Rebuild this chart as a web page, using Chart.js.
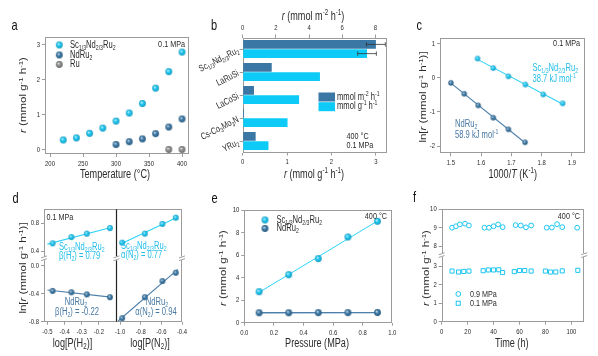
<!DOCTYPE html>
<html><head><meta charset="utf-8">
<script src="https://cdn.jsdelivr.net/npm/chart.js@4.4.1/dist/chart.umd.min.js"></script>
<style>
html,body{margin:0;padding:0;background:#fff;}
#wrap{position:relative;width:598px;height:356px;overflow:hidden;background:#fff;}
#wrap canvas{position:absolute;left:0;top:0;}
</style></head>
<body><div id="wrap">
<canvas id="ca" width="598" height="356"></canvas>
<canvas id="cb" width="598" height="356"></canvas>
<canvas id="cc" width="598" height="356"></canvas>
<canvas id="cd" width="598" height="356"></canvas>
<canvas id="ce" width="598" height="356"></canvas>
<canvas id="cf" width="598" height="356"></canvas>
</div>
<script>
// ================= DATA =================
const nameSc = 'Sc_{1/3}Nd_{2/3}Ru_{2}';
const nameNd = 'NdRu_{2}';
const nameRu = 'Ru';

// panel a
const aTempSc = [220,240,260,280,300,320,340,360,380,400];
const aRateSc = [0.27,0.33,0.46,0.61,0.81,1.04,1.31,1.75,2.22,2.78];
const aTempNd = [300,320,340,360,380,400];
const aRateNd = [0.14,0.22,0.30,0.45,0.64,0.87];
const aTempRu = [380,400];
const aRateRu = [0.0,0.0];
const aXTicks = [200,250,300,350,400];
const aYTicks = [0,1,2,3];

// panel b
const bCats = [nameSc,'LaRuSi','LaCoSi','Cs-Co_{3}Mo_{3}N','YRu_{2}'];
const bArea = [8.03,1.75,0.68,0.08,0.78];
const bAreaErr = [0.57,0,0,0,0];
const bMass = [2.80,1.74,1.27,1.01,0.58];
const bMassErr = [0.21,0,0,0,0];
const bMassTicks = [0,1,2,3];
const bAreaTicks = [0,2,4,6,8];
const bSeries = ['mmol m^{-2} h^{-1}','mmol g^{-1} h^{-1}'];

// panel c
const cScX = [1.588,1.640,1.690,1.746,1.805,1.869];
const cScY = [0.56,0.28,0.04,-0.20,-0.49,-0.75];
const cNdX = [1.500,1.544,1.590,1.640,1.690,1.745];
const cNdY = [-0.15,-0.47,-0.81,-1.17,-1.51,-1.89];
const cXTicks = [1.5,1.6,1.7,1.8,1.9];
const cYTicks = [-2,-1,0,1];
const cEa = ['38.7 kJ mol^{-1}','58.9 kJ mol^{-1}'];

// panel d
const dH2X = [-0.47,-0.36,-0.27,-0.135];
const dScH2 = [0.51,0.60,0.65,0.73];
const dNdH2 = [-0.36,-0.38,-0.41,-0.45];
const dN2X = [-0.98,-0.76,-0.59,-0.46];
const dScN2 = [0.52,0.65,0.79,0.88];
const dNdN2 = [-0.75,-0.45,-0.22,-0.10];
const dH2Ticks = [-0.5,-0.4,-0.3,-0.2];
const dN2Ticks = [-1.0,-0.8,-0.6,-0.4];
const dHiTicks = [0.4,0.8];
const dLoTicks = [-0.8,-0.4,0.0];
const dOrders = ['β(H_{2}) = 0.79','β(H_{2}) = -0.22','α(N_{2}) = 0.77','α(N_{2}) = 0.94'];

// panel e
const eP = [0.1,0.3,0.5,0.7,0.9];
const eSc = [2.75,4.26,5.68,7.60,9.00];
const eNd = [0.88,0.88,0.89,0.89,0.90];
const eXTicks = [0,0.2,0.4,0.6,0.8,1.0];
const eYTicks = [0,2,4,6,8,10];

// panel f
const fTimeHigh = [8,11,14,18,21, 33,36.5,40,43.5,47, 57,61,65,69, 81,85,89,93, 104.5];
const fRateHigh = [9.00,9.08,9.18,9.22,9.12, 9.00,9.00,9.08,9.18,9.03, 9.14,9.12,9.02,9.12, 9.00,9.01,9.19,9.03, 9.00];
const fTimeLow = [8,13,17,21, 32,36,40,44,47, 56,60,64,69, 80,84,88,93, 105];
const fRateLow = [2.73,2.68,2.71,2.73, 2.75,2.79,2.79,2.80,2.65, 2.70,2.76,2.76,2.73, 2.73,2.68,2.68,2.74, 2.77];
const fXTicks = [0,20,40,60,80,100];
const fHiTicks = [8,9,10];
const fLoTicks = [0,1,2,3];
const fSeries = ['0.9 MPa','0.1 MPa'];

// ================= STYLE =================
const SC='#1BC5F1', SCB='#0DCBF6', ND='#3A77A4', RU='#8C8C8C', AX='#9B9B9B', TXT='#2b2b2b';
const SCT='#22BEEA', NDT='#4878A3';
const FN = "'Liberation Sans',Arial,sans-serif";

// the source figure is horizontally condensed: draw all text narrowed
const SX = 0.76; let curSX = SX;
(function(){
  const P=CanvasRenderingContext2D.prototype,_ft=P.fillText,_mt=P.measureText;
  P.fillText=function(t,x,y){if(curSX===1)return _ft.call(this,t,x,y);
    this.save();this.translate(x,y);this.scale(curSX,1);_ft.call(this,t,0,0);this.restore();};
  P.measureText=function(t){const m=_mt.call(this,t);const k=curSX;
    return {width:m.width*k,actualBoundingBoxAscent:m.actualBoundingBoxAscent,actualBoundingBoxDescent:m.actualBoundingBoxDescent,
      actualBoundingBoxLeft:m.actualBoundingBoxLeft*k,actualBoundingBoxRight:m.actualBoundingBoxRight*k,
      fontBoundingBoxAscent:m.fontBoundingBoxAscent,fontBoundingBoxDescent:m.fontBoundingBoxDescent};};
})();

Chart.defaults.font.family = FN;
Chart.defaults.color = TXT;
Chart.defaults.animation = false;
Chart.defaults.events = [];
Chart.defaults.plugins.legend.display = false;
Chart.defaults.plugins.tooltip.enabled = false;
Chart.defaults.responsive = false;
Chart.defaults.maintainAspectRatio = false;

const AW=28, AH=18;
const boxA=[45,37,189,154], boxB=[242.7,37.5,387,152.5], boxC=[440,38,585,153.3],
      boxD=[44,209.3,182,321.7], boxE=[244.3,210,392.3,322.7], boxF=[441.7,209.3,584.3,321.7];
const pad = (b,top) => ({left:b[0]-AW, top:b[1]-(top?AH:0), right:598-b[2], bottom:356-b[3]-AH});

function rgb(h){return [1,3,5].map(i=>parseInt(h.slice(i,i+2),16));}
function mix(h,t,w){const a=rgb(h),b=rgb(t);return 'rgb('+a.map((v,i)=>Math.round(v*(1-w)+b[i]*w)).join(',')+')';}
function ball(color,r){
  const s=Math.ceil(2*r)+2;const c=document.createElement('canvas');c.width=c.height=s;
  const g=c.getContext('2d');const m=s/2;
  const gr=g.createRadialGradient(m-r*0.3,m-r*0.35,r*0.05,m,m,r);
  gr.addColorStop(0,mix(color,'#ffffff',0.7));gr.addColorStop(0.5,color);gr.addColorStop(1,mix(color,'#000000',0.22));
  g.fillStyle=gr;g.beginPath();g.arc(m,m,r,0,Math.PI*2);g.fill();return c;
}
const pts=(xs,ys)=>xs.map((x,i)=>({x,y:ys[i]}));
function fit(xs,ys,e0,e1){
  const n=xs.length,mx=xs.reduce((a,b)=>a+b)/n,my=ys.reduce((a,b)=>a+b)/n;
  let sxy=0,sxx=0;xs.forEach((x,i)=>{sxy+=(x-mx)*(ys[i]-my);sxx+=(x-mx)**2;});
  const k=sxy/sxx,b=my-k*mx,x0=Math.min(...xs)-e0,x1=Math.max(...xs)+e1;
  return [{x:x0,y:k*x0+b},{x:x1,y:k*x1+b}];
}

function parseRich(s){
  const segs=[];let i=0,buf='',it=false;
  const push=(t,mode)=>{if(t)segs.push({t,mode,it});};
  while(i<s.length){
    const c=s[i];
    if((c==='_'||c==='^')&&s[i+1]==='{'){push(buf,'n');buf='';const j=s.indexOf('}',i);push(s.slice(i+2,j),c==='_'?'sub':'sup');i=j+1;}
    else if(c==='*'){push(buf,'n');buf='';it=!it;i++;}
    else{buf+=c;i++;}
  }
  push(buf,'n');return segs;
}
function drawRich(ctx,x,y,s,o={}){
  const size=o.size||9,color=o.color||TXT,align=o.align||'left',fam=o.fam||FN;
  const segs=parseRich(s);
  ctx.save();ctx.fillStyle=color;ctx.textBaseline=o.base||'middle';ctx.textAlign='left';
  const f=sg=>(sg.it?'italic ':'')+(sg.mode==='n'?size:size*0.68)+'px '+fam;
  let w=0;segs.forEach(sg=>{ctx.font=f(sg);sg.w=ctx.measureText(sg.t).width;w+=sg.w;});
  let cx=align==='center'?x-w/2:align==='right'?x-w:x;
  segs.forEach(sg=>{ctx.font=f(sg);const dy=sg.mode==='sub'?size*0.3:sg.mode==='sup'?-size*0.32:0;ctx.fillText(sg.t,cx,y+dy);cx+=sg.w;});
  ctx.restore();
}
function vtitle(ctx,x,y,s,size){
  ctx.save();ctx.translate(x,y);ctx.rotate(-Math.PI/2);ctx.scale(1,SX);
  const old=curSX;curSX=1;drawRich(ctx,0,0,s,{size:size||11,align:'center'});curSX=old;ctx.restore();
}
function breakMark(ctx,x,y){
  ctx.save();ctx.fillStyle='#fff';ctx.fillRect(x-1.5,y-2,3,4);
  ctx.strokeStyle='#888';ctx.lineWidth=0.8;
  for(const o of [-1.4,1.4]){ctx.beginPath();ctx.moveTo(x-3,y+o+1);ctx.lineTo(x+3,y+o-1);ctx.stroke();}
  ctx.restore();
}

function axis(o){
  const s={
    type:'linear',position:o.position,min:o.min,max:o.max,
    grid:{drawOnChartArea:false,drawTicks:true,tickLength:3,color:AX,lineWidth:1},
    border:{display:false},
    ticks:{font:{size:7.8,family:FN},color:TXT,padding:2,autoSkip:false,maxRotation:0,minRotation:0,
      callback:o.fmt||(v=>String(v))},
    afterBuildTicks:sc=>{sc.ticks=o.ticks.map(v=>({value:v}));},
    afterFit:sc=>{if(sc.isHorizontal())sc.height=AH;else sc.width=AW;}
  };
  if(o.stack){s.stack=o.stack;s.stackWeight=o.stackWeight;}
  return s;
}
const f1=v=>v.toFixed(1);
const framePl={id:'frame',beforeDatasetsDraw(c){
  const a=c.chartArea,x=c.ctx;x.save();x.strokeStyle=AX;x.lineWidth=1;
  const l=Math.round(a.left)+0.5,t=Math.round(a.top)+0.5,r=Math.round(a.right)-0.5,b=Math.round(a.bottom)-0.5;
  x.strokeRect(l,t,r-l,b-t);x.restore();}};
const deco=(id,fn)=>({id,afterDraw:c=>fn(c.ctx,c)});
const letter=(ctx,x,y,s)=>drawRich(ctx,x,y,s,{size:14.5,color:'#111',base:'alphabetic'});
const TS=12, VS=11.5, LS=10, NS=9.5;

// ================= PANEL A =================
const bSc=ball(SC,3.4),bNd=ball(ND,3.4),bRu=ball(RU,3.4);
new Chart(document.getElementById('ca'),{
  type:'scatter',
  data:{datasets:[
    {data:pts(aTempSc,aRateSc),pointStyle:bSc,pointRadius:3.4},
    {data:pts(aTempNd,aRateNd),pointStyle:bNd,pointRadius:3.4},
    {data:pts(aTempRu,aRateRu),pointStyle:bRu,pointRadius:3.4}
  ]},
  options:{layout:{padding:pad(boxA)},scales:{
    x:axis({position:'bottom',min:192.4,max:410.6,ticks:aXTicks}),
    y:axis({position:'left',min:-0.13,max:3.21,ticks:aYTicks})
  }},
  plugins:[framePl,deco('da',(ctx)=>{
    letter(ctx,11.5,30,'a');
    [[bSc,nameSc,45],[bNd,nameNd,55],[bRu,nameRu,64.5]].forEach(([im,t,y])=>{
      ctx.drawImage(im,59.3-im.width/2,y-im.height/2);drawRich(ctx,70,y,t,{size:LS});});
    drawRich(ctx,185,44.5,'0.1 MPa',{size:NS,align:'right'});
    drawRich(ctx,115,175,'Temperature (°C)',{size:TS,align:'center'});
    vtitle(ctx,24,95,'*r* (mmol g^{-1} h^{-1})',VS);
  })]
});

// ================= PANEL B =================
const errPl={id:'err',afterDatasetsDraw(c){
  const ctx=c.ctx;ctx.save();ctx.strokeStyle='#333';ctx.lineWidth=0.8;
  c.data.datasets.forEach((ds,di)=>{
    const meta=c.getDatasetMeta(di),sc=c.scales[meta.xAxisID];
    (ds.err||[]).forEach((e,i)=>{if(!e)return;const y=meta.data[i].y,v=ds.data[i];
      const x0=sc.getPixelForValue(v-e),x1=sc.getPixelForValue(v+e);
      ctx.beginPath();ctx.moveTo(x0,y);ctx.lineTo(x1,y);
      ctx.moveTo(x0,y-2.2);ctx.lineTo(x0,y+2.2);ctx.moveTo(x1,y-2.2);ctx.lineTo(x1,y+2.2);ctx.stroke();});
  });ctx.restore();}};
new Chart(document.getElementById('cb'),{
  type:'bar',
  data:{labels:bCats,datasets:[
    {data:bArea,err:bAreaErr,xAxisID:'x2',yAxisID:'y',backgroundColor:ND,categoryPercentage:0.8,barPercentage:0.97},
    {data:bMass,err:bMassErr,xAxisID:'x',yAxisID:'y',backgroundColor:SCB,categoryPercentage:0.8,barPercentage:0.97}
  ]},
  options:{indexAxis:'y',layout:{padding:pad(boxB,true)},scales:{
    x:axis({position:'bottom',min:0,max:3.25,ticks:bMassTicks}),
    x2:axis({position:'top',min:0,max:8.7,ticks:bAreaTicks}),
    y:{type:'category',position:'left',offset:true,
       grid:{offset:false,drawOnChartArea:false,drawTicks:true,tickLength:3,color:AX},
       border:{display:false},ticks:{display:false},afterFit:s=>{s.width=AW;}}
  }},
  plugins:[framePl,errPl,deco('db',(ctx,c)=>{
    letter(ctx,211,30,'b');
    const ys=c.scales.y,left=c.chartArea.left;
    bCats.forEach((lab,i)=>{const y=ys.getPixelForValue(i);ctx.save();ctx.translate(left-4.5,y+1);
      ctx.rotate(-27*Math.PI/180);drawRich(ctx,0,0,lab,{size:9.5,align:'right'});ctx.restore();});
    drawRich(ctx,313,17,'*r* (mmol m^{-2} h^{-1})',{size:TS,align:'center'});
    drawRich(ctx,314,175,'*r* (mmol g^{-1} h^{-1})',{size:TS,align:'center'});
    ctx.fillStyle=ND;ctx.fillRect(318.5,92.5,16.5,9);
    ctx.fillStyle=SCB;ctx.fillRect(318.5,102.2,16.5,9);
    drawRich(ctx,337,97,bSeries[0],{size:LS});
    drawRich(ctx,337,106.7,bSeries[1],{size:LS});
    drawRich(ctx,346.5,136.5,'400 °C',{size:NS});
    drawRich(ctx,346.5,145.8,'0.1 MPa',{size:NS});
  })]
});

// ================= PANEL C =================
const cbSc=ball(SC,2.7),cbNd=ball(ND,2.7);
new Chart(document.getElementById('cc'),{
  type:'scatter',
  data:{datasets:[
    {data:pts(cScX,cScY),pointStyle:cbSc,pointRadius:2.7,order:0},
    {data:pts(cNdX,cNdY),pointStyle:cbNd,pointRadius:2.7,order:0},
    {data:fit(cScX,cScY,0.005,0.006),showLine:true,pointRadius:0,borderColor:'#2ED3F7',borderWidth:1.1,order:1},
    {data:fit(cNdX,cNdY,0.003,0.003),showLine:true,pointRadius:0,borderColor:'#4C7FAA',borderWidth:1.1,order:1}
  ]},
  options:{layout:{padding:pad(boxC)},scales:{
    x:axis({position:'bottom',min:1.464,max:1.943,ticks:cXTicks,fmt:f1}),
    y:axis({position:'left',min:-2.21,max:1.16,ticks:cYTicks})
  }},
  plugins:[framePl,deco('dc',(ctx)=>{
    letter(ctx,416.5,29.5,'c');
    drawRich(ctx,580,43.5,'0.1 MPa',{size:NS,align:'right'});
    drawRich(ctx,532.5,68.5,nameSc,{size:LS,color:SCT});
    drawRich(ctx,532.5,79,cEa[0],{size:LS,color:SCT});
    drawRich(ctx,455,124,nameNd,{size:LS,color:NDT});
    drawRich(ctx,455,135,cEa[1],{size:LS,color:NDT});
    drawRich(ctx,512.7,175,'1000/*T* (K^{-1})',{size:TS,align:'center'});
    vtitle(ctx,424,97,'ln[*r* (mmol g^{-1} h^{-1})]',VS);
  })]
});

// ================= PANEL D =================
const dbSc=ball(SC,2.9),dbNd=ball(ND,2.9);
new Chart(document.getElementById('cd'),{
  type:'scatter',
  data:{datasets:[
    {data:pts(dH2X,dScH2),xAxisID:'xH',yAxisID:'yHi',pointStyle:dbSc,pointRadius:2.9,order:0},
    {data:pts(dH2X,dNdH2),xAxisID:'xH',yAxisID:'yLo',pointStyle:dbNd,pointRadius:2.9,order:0},
    {data:pts(dN2X,dScN2),xAxisID:'xN',yAxisID:'yHi',pointStyle:dbSc,pointRadius:2.9,order:0},
    {data:pts(dN2X,dNdN2),xAxisID:'xN',yAxisID:'yLo',pointStyle:dbNd,pointRadius:2.9,order:0},
    {data:fit(dH2X,dScH2,0.03,0.005),xAxisID:'xH',yAxisID:'yHi',showLine:true,pointRadius:0,borderColor:'#2ED3F7',borderWidth:1.1,order:1},
    {data:fit(dH2X,dNdH2,0.03,0.005),xAxisID:'xH',yAxisID:'yLo',showLine:true,pointRadius:0,borderColor:'#4C7FAA',borderWidth:1.1,order:1},
    {data:fit(dN2X,dScN2,0.02,0.02),xAxisID:'xN',yAxisID:'yHi',showLine:true,pointRadius:0,borderColor:'#2ED3F7',borderWidth:1.1,order:1},
    {data:fit(dN2X,dNdN2,0.04,0.02),xAxisID:'xN',yAxisID:'yLo',showLine:true,pointRadius:0,borderColor:'#4C7FAA',borderWidth:1.1,order:1}
  ]},
  options:{layout:{padding:pad(boxD)},scales:{
    xH:axis({position:'bottom',min:-0.52,max:-0.10,ticks:dH2Ticks,fmt:f1,stack:'dx',stackWeight:72}),
    xN:axis({position:'bottom',min:-1.04,max:-0.40,ticks:dN2Ticks,fmt:f1,stack:'dx',stackWeight:66}),
    yLo:axis({position:'left',min:-0.80,max:0.106,ticks:dLoTicks,fmt:f1,stack:'dy',stackWeight:63.4}),
    yHi:axis({position:'left',min:0.295,max:1.0,ticks:dHiTicks,fmt:f1,stack:'dy',stackWeight:49})
  }},
  plugins:[framePl,deco('dd',(ctx,c)=>{
    letter(ctx,12.5,203,'d');
    const a=c.chartArea,xm=Math.round(c.scales.xH.right)+0.5,yb=c.scales.yHi.bottom;
    ctx.save();ctx.strokeStyle='#222';ctx.lineWidth=1.2;ctx.beginPath();ctx.moveTo(xm,a.top);ctx.lineTo(xm,a.bottom);ctx.stroke();ctx.restore();
    breakMark(ctx,a.left,yb);breakMark(ctx,xm,yb);breakMark(ctx,a.right,yb);
    drawRich(ctx,46.5,217,'0.1 MPa',{size:NS});
    drawRich(ctx,59,247,nameSc,{size:LS,color:SCT});
    drawRich(ctx,59,256,dOrders[0],{size:LS,color:SCT});
    drawRich(ctx,76,302,nameNd,{size:LS,color:NDT,align:'center'});
    drawRich(ctx,77,312,dOrders[1],{size:LS,color:NDT,align:'center'});
    drawRich(ctx,121,246,nameSc,{size:LS,color:SCT});
    drawRich(ctx,121,255,dOrders[2],{size:LS,color:SCT});
    drawRich(ctx,157,302.5,nameNd,{size:LS,color:NDT,align:'center'});
    drawRich(ctx,156,312,dOrders[3],{size:LS,color:NDT,align:'center'});
    drawRich(ctx,72.5,343.5,'log[P(H_{2})]',{size:TS,align:'center'});
    drawRich(ctx,150,343.5,'log[P(N_{2})]',{size:TS,align:'center'});
    vtitle(ctx,24,268,'ln[*r* (mmol g^{-1} h^{-1})]',VS);
  })]
});

// ================= PANEL E =================
new Chart(document.getElementById('ce'),{
  type:'scatter',
  data:{datasets:[
    {data:pts(eP,eSc),pointStyle:bSc,pointRadius:3.4,order:0},
    {data:pts(eP,eNd),pointStyle:bNd,pointRadius:3.4,order:0},
    {data:fit(eP,eSc,0,0),showLine:true,pointRadius:0,borderColor:'#2ED3F7',borderWidth:1,order:1},
    {data:fit(eP,eNd,0,0),showLine:true,pointRadius:0,borderColor:'#4C7FAA',borderWidth:1.4,order:1}
  ]},
  options:{layout:{padding:pad(boxE)},scales:{
    x:axis({position:'bottom',min:0,max:1,ticks:eXTicks,fmt:f1}),
    y:axis({position:'left',min:0,max:10,ticks:eYTicks})
  }},
  plugins:[framePl,deco('de',(ctx)=>{
    letter(ctx,211.5,203,'e');
    [[bSc,nameSc,220],[bNd,nameNd,228.5]].forEach(([im,t,y])=>{
      ctx.drawImage(im,265-im.width/2,y-im.height/2);drawRich(ctx,276.5,y,t,{size:LS});});
    drawRich(ctx,387,216.5,'400 °C',{size:NS,align:'right'});
    drawRich(ctx,317,343.5,'Pressure (MPa)',{size:TS,align:'center'});
    vtitle(ctx,224,268,'*r* (mmol g^{-1} h^{-1})',VS);
  })]
});

// ================= PANEL F =================
new Chart(document.getElementById('cf'),{
  type:'scatter',
  data:{datasets:[
    {data:pts(fTimeHigh,fRateHigh),xAxisID:'x',yAxisID:'yHi',pointStyle:'circle',pointRadius:2.4,borderColor:SC,backgroundColor:'#fff',borderWidth:1},
    {data:pts(fTimeLow,fRateLow),xAxisID:'x',yAxisID:'yLo',pointStyle:'rect',pointRadius:2.9,borderColor:SC,backgroundColor:'#fff',borderWidth:1}
  ]},
  options:{layout:{padding:pad(boxF)},scales:{
    x:axis({position:'bottom',min:0,max:110,ticks:fXTicks}),
    yLo:axis({position:'left',min:0,max:3.59,ticks:fLoTicks,stack:'fy',stackWeight:66.4}),
    yHi:axis({position:'left',min:7.51,max:10,ticks:fHiTicks,stack:'fy',stackWeight:45.7})
  }},
  plugins:[framePl,deco('df',(ctx,c)=>{
    letter(ctx,413,202,'f');
    const a=c.chartArea,yb=c.scales.yHi.bottom;
    breakMark(ctx,a.left,yb);breakMark(ctx,a.right,yb);
    drawRich(ctx,580,216.5,'400 °C',{size:NS,align:'right'});
    ctx.save();ctx.strokeStyle=SC;ctx.lineWidth=1;
    ctx.beginPath();ctx.arc(458.3,294,2.4,0,Math.PI*2);ctx.stroke();
    ctx.strokeRect(456.2,301.2,4.1,4.1);ctx.restore();
    drawRich(ctx,470,294,fSeries[0],{size:NS});
    drawRich(ctx,470,303.3,fSeries[1],{size:NS});
    drawRich(ctx,511.7,343.5,'Time (h)',{size:TS,align:'center'});
    vtitle(ctx,427,268,'*r* (mmol g^{-1} h^{-1})',VS);
  })]
});
</script>
</body></html>
